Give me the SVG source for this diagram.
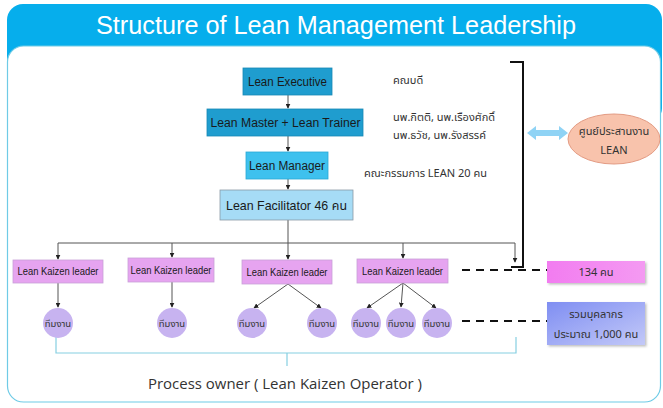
<svg xmlns="http://www.w3.org/2000/svg" width="663" height="408" viewBox="0 0 663 408">
<defs>
<style>
.t{font-family:"Liberation Sans","Noto Sans Thai","Noto Sans",sans-serif;fill:#1a1a1a}
.th{font-family:"Noto Sans Thai","Liberation Sans","Noto Sans",sans-serif;fill:#333}
.c{stroke:#555;stroke-width:1;fill:none}
.leader{fill:#e6a4f0;stroke:#c9a0d8;stroke-width:0.8}
.team{fill:#c7b3f0}
.dash{stroke:#111;stroke-width:2;stroke-dasharray:8 6;fill:none}
</style>
<marker id="ah" viewBox="0 0 8 8" refX="7" refY="4" markerWidth="5" markerHeight="5" orient="auto">
<path d="M0,0 L8,4 L0,8 Z" fill="#222"/>
</marker>
<linearGradient id="gBlue" x1="0" y1="0" x2="1" y2="1">
<stop offset="0" stop-color="#7f8ef2"/>
<stop offset="1" stop-color="#c3c9f8"/>
</linearGradient>
<linearGradient id="gPink" x1="0" y1="0" x2="1" y2="0">
<stop offset="0" stop-color="#f27cf0"/>
<stop offset="1" stop-color="#f49af2"/>
</linearGradient>
<filter id="sh" x="-10%" y="-10%" width="130%" height="140%">
<feDropShadow dx="1.5" dy="1.5" stdDeviation="1.2" flood-color="#000" flood-opacity="0.25"/>
</filter>
</defs>

<g id="frame">
<rect x="7" y="4" width="655" height="120" rx="16" fill="#06aeec"/>
<rect x="7.5" y="46" width="653" height="356" rx="16" fill="#fff" stroke="#6fcbe6" stroke-width="1.2"/>
<text x="336" y="34" text-anchor="middle" font-family="Liberation Sans, sans-serif" font-size="25" fill="#fff" textLength="480" lengthAdjust="spacingAndGlyphs">Structure of Lean Management Leadership</text>
</g>

<g id="connectors">
<line class="c" x1="288" y1="95" x2="288" y2="108" marker-end="url(#ah)"/>
<line class="c" x1="288" y1="136" x2="288" y2="151" marker-end="url(#ah)"/>
<line class="c" x1="288" y1="179" x2="288" y2="189" marker-end="url(#ah)"/>
<line class="c" x1="288" y1="220" x2="288" y2="243"/>
<line class="c" x1="58" y1="243" x2="515" y2="243"/>
<line class="c" x1="58" y1="243" x2="58" y2="259" marker-end="url(#ah)"/>
<line class="c" x1="172" y1="243" x2="172" y2="257" marker-end="url(#ah)"/>
<line class="c" x1="288" y1="243" x2="288" y2="259" marker-end="url(#ah)"/>
<line class="c" x1="403" y1="243" x2="403" y2="258" marker-end="url(#ah)"/>
<line class="c" x1="515" y1="243" x2="515" y2="262" marker-end="url(#ah)"/>
<line class="c" x1="58" y1="283" x2="58" y2="307" marker-end="url(#ah)"/>
<line class="c" x1="172" y1="282" x2="172" y2="307" marker-end="url(#ah)"/>
<line class="c" x1="288" y1="284" x2="254" y2="308" marker-end="url(#ah)"/>
<line class="c" x1="288" y1="284" x2="321" y2="308" marker-end="url(#ah)"/>
<line class="c" x1="403" y1="283" x2="367" y2="308" marker-end="url(#ah)"/>
<line class="c" x1="403" y1="283" x2="401" y2="307" marker-end="url(#ah)"/>
<line class="c" x1="403" y1="283" x2="436" y2="308" marker-end="url(#ah)"/>
<path d="M510,62 H523 V267 H511" fill="none" stroke="#111" stroke-width="2"/>
<line class="dash" x1="462" y1="270" x2="547" y2="270"/>
<line class="dash" x1="462" y1="321" x2="547" y2="321"/>
<path d="M56,337 V353 H516 V337 M287,353 V366" fill="none" stroke="#86cfe2" stroke-width="1.2"/>
<path d="M527,133 L536,126 V130 H559 V126 L568,133 L559,140 V136 H536 V140 Z" fill="#8fd3f5"/>
</g>

<g id="exec">
<rect x="243" y="68" width="89" height="27" fill="#1f9dcf" stroke="#1788b5" stroke-width="0.8"/>
<text class="t" x="287.5" y="86" text-anchor="middle" font-size="12.5" textLength="79" lengthAdjust="spacingAndGlyphs">Lean Executive</text>
</g>
<g id="master">
<rect x="207" y="109" width="156" height="27" fill="#1f9dcf" stroke="#1788b5" stroke-width="0.8"/>
<text class="t" x="285.5" y="127" text-anchor="middle" font-size="12.5" textLength="150" lengthAdjust="spacingAndGlyphs">Lean Master + Lean Trainer</text>
</g>
<g id="manager">
<rect x="246" y="152" width="82" height="27" fill="#3ec1ee" stroke="#2aa8d4" stroke-width="0.8"/>
<text class="t" x="287" y="170" text-anchor="middle" font-size="12.5" textLength="76" lengthAdjust="spacingAndGlyphs">Lean Manager</text>
</g>
<g id="facilitator">
<rect x="220" y="190" width="133" height="30" fill="#a6dcf6" stroke="#8a9aa6" stroke-width="0.8"/>
<text class="t" x="286.5" y="210" text-anchor="middle" font-size="13" textLength="121" lengthAdjust="spacingAndGlyphs">Lean Facilitator 46 คน</text>
</g>

<g id="labels">
<text class="th" x="393" y="84" font-size="11">คณบดี</text>
<text class="th" x="393" y="121" font-size="11">นพ.กิตติ, นพ.เรืองศักดิ์</text>
<text class="th" x="393" y="139" font-size="11">นพ.ธวัช, นพ.รังสรรค์</text>
<text class="th" x="364" y="177" font-size="11">คณะกรรมการ LEAN 20 คน</text>
</g>

<g id="leader1">
<rect class="leader" x="13" y="260" width="90" height="23"/>
<text class="t" x="58" y="275" text-anchor="middle" font-size="11" textLength="81" lengthAdjust="spacingAndGlyphs">Lean Kaizen leader</text>
</g>
<g id="leader2">
<rect class="leader" x="128" y="258" width="86" height="24"/>
<text class="t" x="171" y="274" text-anchor="middle" font-size="11" textLength="81" lengthAdjust="spacingAndGlyphs">Lean Kaizen leader</text>
</g>
<g id="leader3">
<rect class="leader" x="242" y="260" width="90" height="24"/>
<text class="t" x="287" y="276" text-anchor="middle" font-size="11" textLength="81" lengthAdjust="spacingAndGlyphs">Lean Kaizen leader</text>
</g>
<g id="leader4">
<rect class="leader" x="357" y="259" width="91" height="24"/>
<text class="t" x="402.5" y="275" text-anchor="middle" font-size="11" textLength="81" lengthAdjust="spacingAndGlyphs">Lean Kaizen leader</text>
</g>

<g id="team1"><circle class="team" cx="58" cy="323" r="15"/><text class="th" x="58" y="327" text-anchor="middle" font-size="9.5">ทีมงาน</text></g>
<g id="team2"><circle class="team" cx="172" cy="323" r="15"/><text class="th" x="172" y="327" text-anchor="middle" font-size="9.5">ทีมงาน</text></g>
<g id="team3"><circle class="team" cx="252" cy="323" r="15"/><text class="th" x="252" y="327" text-anchor="middle" font-size="9.5">ทีมงาน</text></g>
<g id="team4"><circle class="team" cx="322" cy="323" r="15"/><text class="th" x="322" y="327" text-anchor="middle" font-size="9.5">ทีมงาน</text></g>
<g id="team5"><circle class="team" cx="366" cy="323" r="15"/><text class="th" x="366" y="327" text-anchor="middle" font-size="9.5">ทีมงาน</text></g>
<g id="team6"><circle class="team" cx="401" cy="323" r="15"/><text class="th" x="401" y="327" text-anchor="middle" font-size="9.5">ทีมงาน</text></g>
<g id="team7"><circle class="team" cx="437" cy="323" r="15"/><text class="th" x="437" y="327" text-anchor="middle" font-size="9.5">ทีมงาน</text></g>

<g id="count134">
<rect x="547" y="261" width="98" height="22" fill="url(#gPink)" filter="url(#sh)"/>
<text class="th" x="596" y="276" text-anchor="middle" font-size="11">134 คน</text>
</g>
<g id="total">
<rect x="547" y="302" width="98" height="43" fill="url(#gBlue)" filter="url(#sh)"/>
<text class="th" x="596" y="318" text-anchor="middle" font-size="11">รวมบุคลากร</text>
<text class="th" x="596" y="338" text-anchor="middle" font-size="11">ประมาณ 1,000 คน</text>
</g>
<g id="center">
<ellipse cx="614" cy="139" rx="46" ry="25" fill="#f8c3ac" stroke="#e39b83" stroke-width="1"/>
<text class="th" x="614" y="135" text-anchor="middle" font-size="11">ศูนย์ประสานงาน</text>
<text class="th" x="614" y="154" text-anchor="middle" font-size="11">LEAN</text>
</g>

<g id="caption">
<text x="285" y="389" text-anchor="middle" font-family="Open Sans, Liberation Sans, sans-serif" font-size="14.5" fill="#333" textLength="274" lengthAdjust="spacingAndGlyphs">Process owner ( Lean Kaizen Operator )</text>
</g>
</svg>
